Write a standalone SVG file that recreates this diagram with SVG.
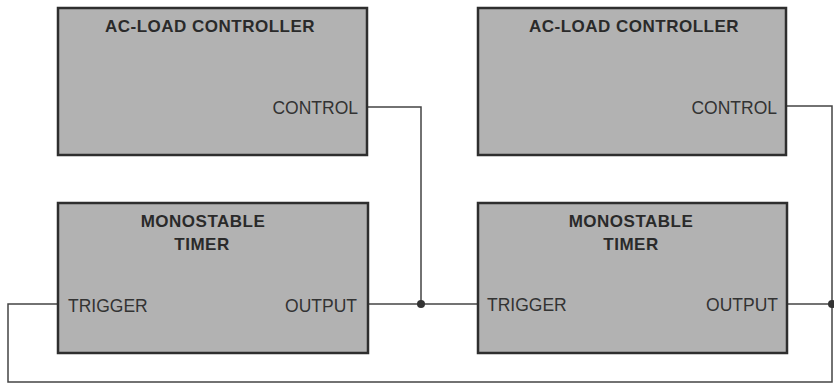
<svg xmlns="http://www.w3.org/2000/svg" width="834" height="385" viewBox="0 0 834 385">
<style>
.box{fill:#b2b2b2;stroke:#2e2e2e;stroke-width:2.5}
.title{font-family:"Liberation Sans",Arial,sans-serif;font-weight:bold;font-size:17px;letter-spacing:0.5px;fill:#2a2a2a;text-anchor:middle}
.lbl{font-family:"Liberation Sans",Arial,sans-serif;font-size:17.5px;fill:#333}
.wire{fill:none;stroke:#444;stroke-width:1.5}
.dot{fill:#333}
</style>
<rect width="834" height="385" fill="#ffffff"/>
<g id="connectors">
<path class="wire" d="M367,107 H421 V304"/>
<path class="wire" d="M368,304 H478"/>
<path class="wire" d="M786,106 H832 V382 H8 V304 H58"/>
<path class="wire" d="M787,304 H832"/>
<circle class="dot" cx="421" cy="304" r="4"/>
<circle class="dot" cx="832" cy="304" r="4"/>
</g>
<g id="acload1">
<rect class="box" x="58" y="8" width="309" height="147"/>
<text class="title" x="210" y="32">AC-LOAD CONTROLLER</text>
<text class="lbl" x="358" y="114" text-anchor="end">CONTROL</text>
</g>
<g id="acload2">
<rect class="box" x="478" y="8" width="308" height="147"/>
<text class="title" x="634" y="32">AC-LOAD CONTROLLER</text>
<text class="lbl" x="777" y="114" text-anchor="end">CONTROL</text>
</g>
<g id="timer1">
<rect class="box" x="58" y="203" width="310" height="150"/>
<text class="title" x="203" y="227">MONOSTABLE</text>
<text class="title" x="202" y="250">TIMER</text>
<text class="lbl" x="68" y="312">TRIGGER</text>
<text class="lbl" x="357" y="312" text-anchor="end">OUTPUT</text>
</g>
<g id="timer2">
<rect class="box" x="478" y="203" width="309" height="150"/>
<text class="title" x="631" y="227">MONOSTABLE</text>
<text class="title" x="631" y="250">TIMER</text>
<text class="lbl" x="487" y="311">TRIGGER</text>
<text class="lbl" x="778" y="311" text-anchor="end">OUTPUT</text>
</g>
</svg>
